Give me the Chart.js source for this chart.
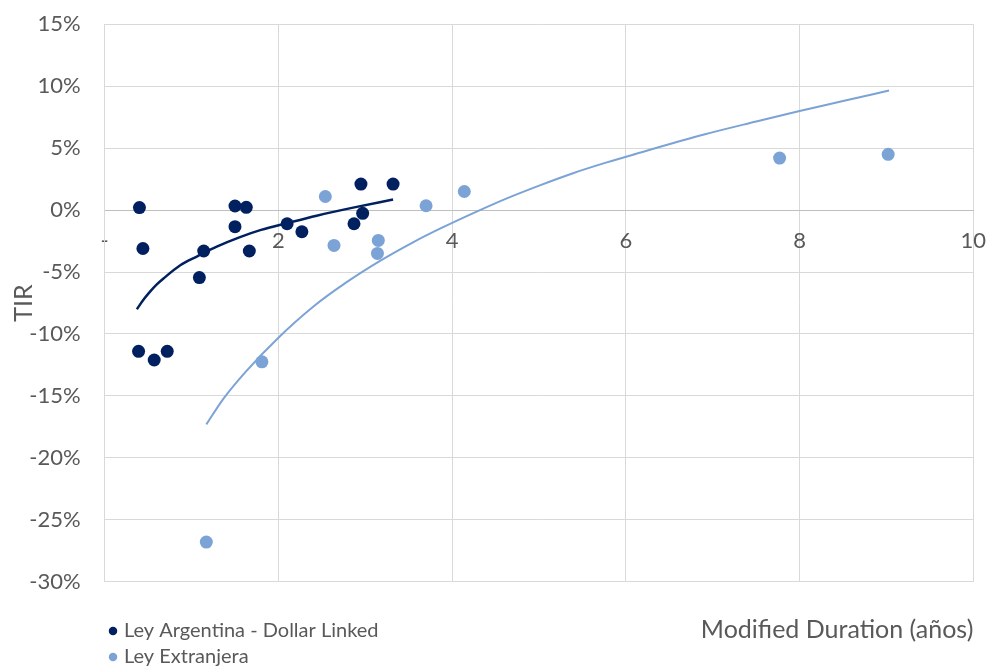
<!DOCTYPE html>
<html>
<head>
<meta charset="utf-8">
<script src="https://cdn.jsdelivr.net/npm/chart.js@4.4.1/dist/chart.umd.min.js"></script>
<style>
  html, body { margin: 0; padding: 0; background: #ffffff; }
  #wrap { width: 988px; height: 668px; position: relative; }
  canvas { display: block; }
</style>
</head>
<body>
<div id="wrap"><canvas id="c" width="988" height="668" style="width:988px;height:668px"></canvas></div>
<script>
// ---- Data ----
const seriesNames = ['Ley Argentina - Dollar Linked', 'Ley Extranjera'];

// Ley Argentina - Dollar Linked (modified duration, TIR %)
const argX = [0.40, 0.44, 0.39, 0.57, 0.72, 1.09, 1.14, 1.50, 1.63, 1.50, 1.665, 2.10, 2.27, 2.87, 2.97, 2.95, 3.32];
const argY = [0.2, -3.1, -11.4, -12.1, -11.4, -5.45, -3.3, 0.33, 0.22, -1.34, -3.3, -1.1, -1.75, -1.1, -0.26, 2.1, 2.1];

// Ley Extranjera
const extX = [1.17, 1.81, 2.54, 2.64, 3.15, 3.14, 3.70, 4.14, 7.77, 9.02];
const extY = [-26.8, -12.25, 1.1, -2.85, -2.45, -3.5, 0.35, 1.5, 4.2, 4.5];

// Trendlines
const argTrendX = [0.37, 0.45, 0.52, 0.60, 0.68, 0.87, 1.06, 1.29, 1.55, 1.80, 2.10, 2.44, 2.86, 3.32];
const argTrendY = [-8.0, -7.2, -6.6, -6.0, -5.5, -4.45, -3.75, -2.95, -2.2, -1.6, -1.05, -0.45, 0.2, 0.85];
const extTrendX = [1.17, 1.37, 1.63, 2.0, 2.4, 2.79, 3.17, 3.55, 3.86, 4.32, 4.63, 5.01, 5.4, 5.78, 6.12, 6.9, 7.5, 8.0, 8.5, 9.03];
const extTrendY = [-17.3, -15.2, -13.0, -10.3, -7.8, -5.8, -4.1, -2.6, -1.5, 0.0, 0.95, 2.0, 3.0, 3.85, 4.55, 6.1, 7.15, 8.0, 8.8, 9.65];

// Axis ticks
const xTickValues = [0, 2, 4, 6, 8, 10];
const yTickValues = [15, 10, 5, 0, -5, -10, -15, -20, -25, -30];
const xTitle = 'Modified Duration (años)';
const yTitle = 'TIR';

// ---- Build chart ----
const darkBlue = '#002060';
const lightBlue = '#7BA3D6';
const textGray = '#595959';
const gridGray = '#D9D9D9';
const fontFam = 'Lato, "Open Sans", sans-serif';

const pts = (xs, ys) => xs.map((x, i) => ({ x: x, y: ys[i] }));
const noPad = (s) => { s.paddingLeft = 0; s.paddingRight = 0; s.paddingTop = 0; s.paddingBottom = 0; };

const legendPlace = {
  id: 'legendPlace',
  afterLayout(chart) {
    const l = chart.legend;
    if (!l) return;
    l.left = 106; l.top = 615; l.right = 700; l.bottom = 760;
    l.width = l.right - l.left; l.height = l.bottom - l.top;
  }
};

new Chart(document.getElementById('c'), {
  type: 'scatter',
  data: {
    datasets: [
      { label: seriesNames[0], data: pts(argX, argY), backgroundColor: darkBlue, borderColor: darkBlue,
        borderWidth: 0, pointRadius: 6.5, pointHoverRadius: 6.5, pointStyle: 'circle', order: 2 },
      { label: seriesNames[1], data: pts(extX, extY), backgroundColor: lightBlue, borderColor: lightBlue,
        borderWidth: 0, pointRadius: 6.5, pointHoverRadius: 6.5, pointStyle: 'circle', order: 2 },
      { label: 'trend1', data: pts(argTrendX, argTrendY), showLine: true, borderColor: darkBlue,
        borderWidth: 2.5, pointRadius: 0, cubicInterpolationMode: 'monotone', fill: false, order: 1 },
      { label: 'trend2', data: pts(extTrendX, extTrendY), showLine: true, borderColor: lightBlue,
        borderWidth: 2, pointRadius: 0, cubicInterpolationMode: 'monotone', fill: false, order: 1 }
    ]
  },
  options: {
    responsive: false,
    maintainAspectRatio: false,
    animation: false,
    devicePixelRatio: 1,
    layout: { autoPadding: false, padding: { left: 0, right: 14.7, top: 24.3, bottom: 0 } },
    plugins: {
      legend: {
        position: 'chartArea',
        align: 'start',
        labels: {
          filter: (item) => item.datasetIndex < 2,
          usePointStyle: true,
          pointStyle: 'circle',
          boxWidth: 2,
          boxHeight: 6,
          padding: 6,
          color: textGray,
          font: { family: fontFam, size: 20 }
        }
      },
      tooltip: { enabled: false }
    },
    scales: {
      x: {
        type: 'linear',
        position: 'bottom',
        min: 0, max: 10,
        afterBuildTicks: (s) => { s.ticks = xTickValues.map(v => ({ value: v })); },
        ticks: { display: false },
        grid: { color: gridGray, lineWidth: 1, drawTicks: false },
        border: { display: true, color: gridGray },
        title: { display: true, text: xTitle, align: 'end', color: textGray,
                 font: { family: fontFam, size: 25 }, padding: { top: 0, bottom: 23 } },
        afterFit: (s) => { s.height = 86.3; noPad(s); }
      },
      x2: {
        type: 'linear',
        position: { y: 0 },
        min: 0, max: 10,
        afterBuildTicks: (s) => { s.ticks = xTickValues.map(v => ({ value: v })); },
        ticks: { color: textGray, padding: 18, maxRotation: 0, autoSkip: false,
                 font: { family: fontFam, size: 22 },
                 callback: (v) => v === 0 ? '-' : String(v) },
        grid: { display: false, drawTicks: false },
        border: { display: true, color: '#BFBFBF', width: 1 },
        afterFit: (s) => { noPad(s); }
      },
      y: {
        type: 'linear',
        position: 'left',
        min: -30, max: 15,
        afterBuildTicks: (s) => { s.ticks = yTickValues.map(v => ({ value: v })); },
        ticks: { color: textGray, padding: 24, font: { family: fontFam, size: 22 },
                 callback: (v) => v + '%' },
        grid: { color: gridGray, lineWidth: 1, drawTicks: false },
        border: { display: true, color: gridGray },
        title: { display: true, text: yTitle, color: textGray,
                 font: { family: fontFam, size: 25 }, padding: { top: 9, bottom: 0 } },
        afterFit: (s) => { s.width = 104.7; noPad(s); }
      }
    }
  },
  plugins: [legendPlace]
});
</script>
</body>
</html>
